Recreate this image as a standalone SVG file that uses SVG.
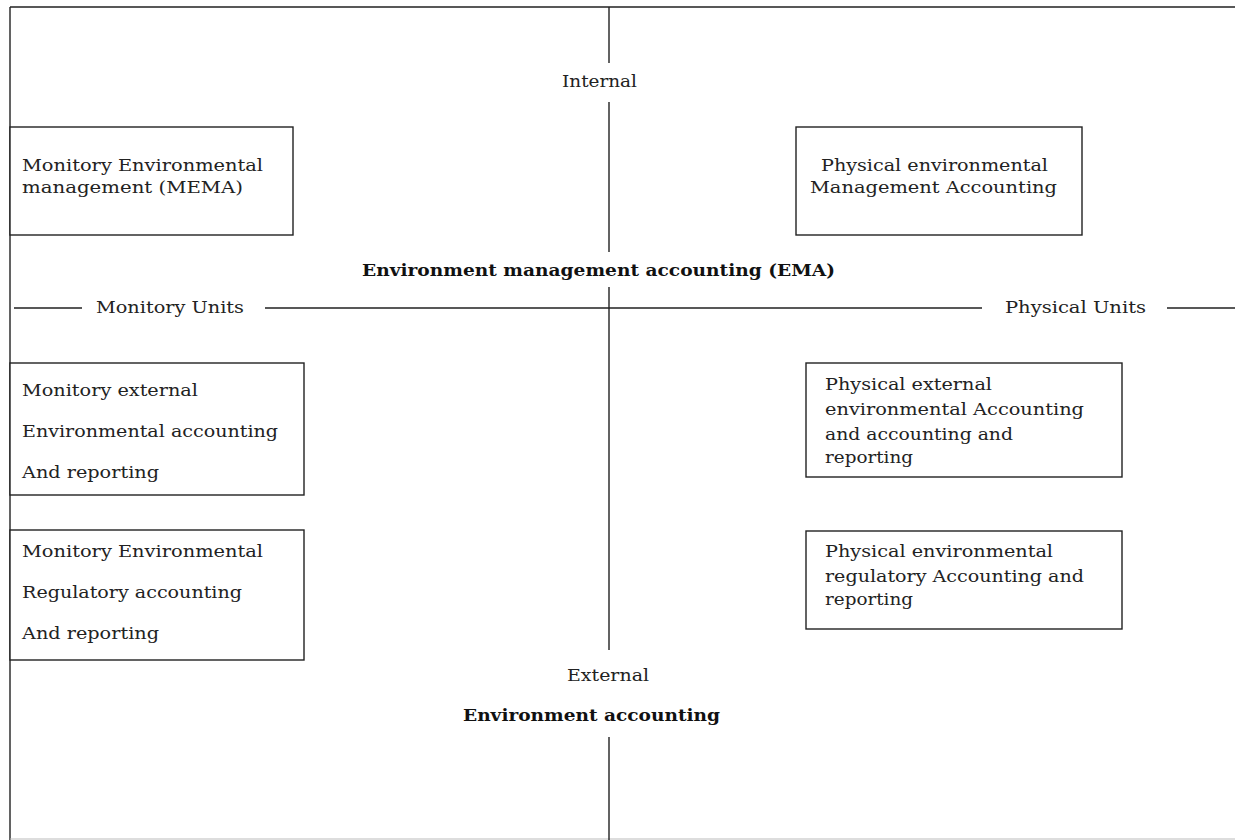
<svg xmlns="http://www.w3.org/2000/svg" width="1235" height="840" viewBox="0 0 1235 840">
<style>
.t{font-family:"DejaVu Serif","Liberation Serif",serif;font-size:17px;fill:#222}
.b{font-family:"DejaVu Serif","Liberation Serif",serif;font-size:17px;font-weight:bold;fill:#111}
.ln{stroke:#222;stroke-width:1.4;fill:none}
.box{stroke:#222;stroke-width:1.4;fill:#fff}
</style>
<rect width="1235" height="840" fill="#fff"/>
<g id="frame">
<path class="ln" d="M10,7 H1235 M10,7 V840"/>
<path d="M10,839 H1235" stroke="#bbb" stroke-width="1"/>
</g>
<g id="connectors">
<path class="ln" d="M609,7 V63 M609,102 V252 M609,287 V650 M609,737 V840"/>
<path class="ln" d="M14,308 H82 M265,308 H982 M1167,308 H1235"/>
</g>
<g id="axis-labels">
<text class="t" x="562" y="87" textLength="75" lengthAdjust="spacingAndGlyphs">Internal</text>
<text class="b" x="362" y="276" textLength="473" lengthAdjust="spacingAndGlyphs">Environment management accounting (EMA)</text>
<text class="t" x="96" y="313" textLength="148" lengthAdjust="spacingAndGlyphs">Monitory Units</text>
<text class="t" x="1005" y="313" textLength="141" lengthAdjust="spacingAndGlyphs">Physical Units</text>
<text class="t" x="567" y="681" textLength="82" lengthAdjust="spacingAndGlyphs">External</text>
<text class="b" x="463" y="721" textLength="257" lengthAdjust="spacingAndGlyphs">Environment accounting</text>
</g>
<g id="node-mema">
<rect class="box" x="10" y="127" width="283" height="108"/>
<text class="t" x="22" y="171" textLength="241" lengthAdjust="spacingAndGlyphs">Monitory Environmental</text>
<text class="t" x="22" y="193" textLength="221" lengthAdjust="spacingAndGlyphs">management (MEMA)</text>
</g>
<g id="node-pema">
<rect class="box" x="796" y="127" width="286" height="108"/>
<text class="t" x="821" y="171" textLength="227" lengthAdjust="spacingAndGlyphs">Physical environmental</text>
<text class="t" x="810" y="193" textLength="247" lengthAdjust="spacingAndGlyphs">Management Accounting</text>
</g>
<g id="node-mexternal">
<rect class="box" x="10" y="363" width="294" height="132"/>
<text class="t" x="22" y="396" textLength="176" lengthAdjust="spacingAndGlyphs">Monitory external</text>
<text class="t" x="22" y="437" textLength="256" lengthAdjust="spacingAndGlyphs">Environmental accounting</text>
<text class="t" x="22" y="478" textLength="137" lengthAdjust="spacingAndGlyphs">And reporting</text>
</g>
<g id="node-mregulatory">
<rect class="box" x="10" y="530" width="294" height="130"/>
<text class="t" x="22" y="557" textLength="241" lengthAdjust="spacingAndGlyphs">Monitory Environmental</text>
<text class="t" x="22" y="598" textLength="220" lengthAdjust="spacingAndGlyphs">Regulatory accounting</text>
<text class="t" x="22" y="639" textLength="137" lengthAdjust="spacingAndGlyphs">And reporting</text>
</g>
<g id="node-pexternal">
<rect class="box" x="806" y="363" width="316" height="114"/>
<text class="t" x="825" y="390" textLength="167" lengthAdjust="spacingAndGlyphs">Physical external</text>
<text class="t" x="825" y="415" textLength="259" lengthAdjust="spacingAndGlyphs">environmental Accounting</text>
<text class="t" x="825" y="440" textLength="188" lengthAdjust="spacingAndGlyphs">and accounting and</text>
<text class="t" x="825" y="463" textLength="88" lengthAdjust="spacingAndGlyphs">reporting</text>
</g>
<g id="node-pregulatory">
<rect class="box" x="806" y="531" width="316" height="98"/>
<text class="t" x="825" y="557" textLength="228" lengthAdjust="spacingAndGlyphs">Physical environmental</text>
<text class="t" x="825" y="582" textLength="259" lengthAdjust="spacingAndGlyphs">regulatory Accounting and</text>
<text class="t" x="825" y="605" textLength="88" lengthAdjust="spacingAndGlyphs">reporting</text>
</g>
</svg>
